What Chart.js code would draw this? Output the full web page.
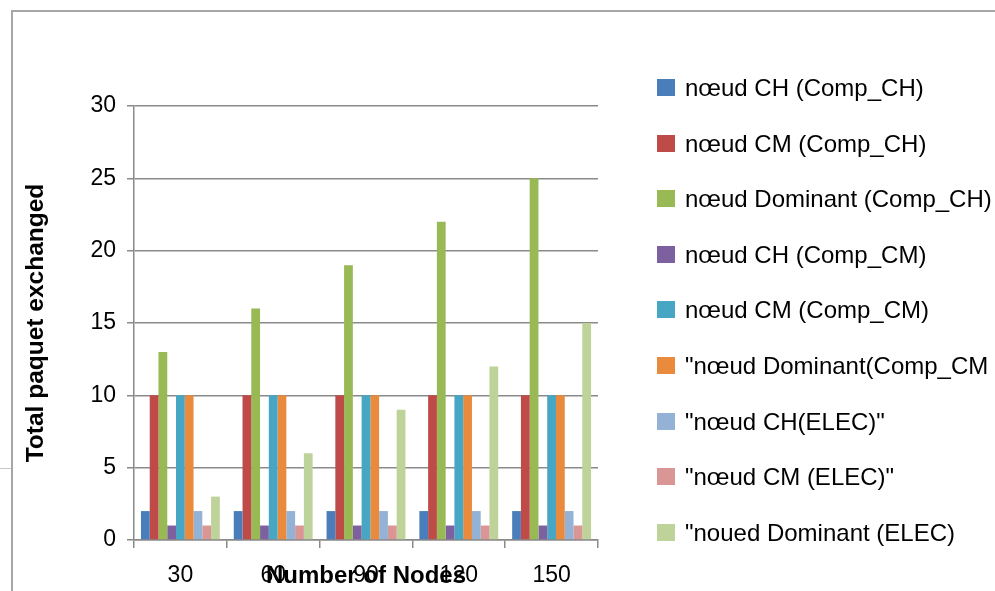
<!DOCTYPE html>
<html>
<head>
<meta charset="utf-8">
<script src="https://cdn.jsdelivr.net/npm/chart.js@4/dist/chart.umd.min.js"></script>
<style>
  html, body { margin: 0; padding: 0; background: #fff; overflow: hidden; }
  #wrap { position: relative; width: 995px; height: 591px; overflow: hidden; }
  #frame { position: absolute; left: 11px; top: 10px; width: 1200px; height: 800px;
           border-top: 2px solid #a6a6a6; border-left: 2px solid #a6a6a6; }
  #stub { position: absolute; left: 0; top: 468px; width: 11px; height: 0; border-top: 1px solid #c8c8c8; }
  canvas { position: absolute; left: 0; top: 0; }
  #legend { position: absolute; left: 657px; top: 0; font-family: "Liberation Sans", Arial, sans-serif;
            font-size: 24px; color: #000; white-space: nowrap; }
  .item { position: absolute; left: 0; height: 26px; line-height: 26px; }
  .sw { position: absolute; left: 0; top: 4px; width: 18px; height: 17px; }
  .lbl { position: absolute; left: 28px; top: 0; }
</style>
</head>
<body>
<div id="wrap">
  <div id="frame"></div>
  <div id="stub"></div>
  <canvas id="c" width="995" height="591"></canvas>
  <div id="legend"></div>
</div>
<script>
const categories = ["30", "60", "90", "120", "150"];

const chCompCH  = [2, 2, 2, 2, 2];
const cmCompCH  = [10, 10, 10, 10, 10];
const domCompCH = [13, 16, 19, 22, 25];
const chCompCM  = [1, 1, 1, 1, 1];
const cmCompCM  = [10, 10, 10, 10, 10];
const domCompCM = [10, 10, 10, 10, 10];
const chElec    = [2, 2, 2, 2, 2];
const cmElec    = [1, 1, 1, 1, 1];
const domElec   = [3, 6, 9, 12, 15];

const seriesNames = [
  "nœud CH (Comp_CH)",
  "nœud CM (Comp_CH)",
  "nœud Dominant (Comp_CH)",
  "nœud CH (Comp_CM)",
  "nœud CM (Comp_CM)",
  "\"nœud Dominant(Comp_CM",
  "\"nœud CH(ELEC)\"",
  "\"nœud CM (ELEC)\"",
  "\"noued Dominant (ELEC)"
];
const seriesValues = [chCompCH, cmCompCH, domCompCH, chCompCM, cmCompCM, domCompCM, chElec, cmElec, domElec];
const seriesColors = ["#4a7ebb", "#be4b48", "#98b954", "#7d60a0", "#46a6c4", "#e98a3c", "#94b2d6", "#d99694", "#bed39a"];

const yTitle = "Total paquet exchanged";
const xTitle = "Number of Nodes";

const datasets = seriesNames.map((n, i) => ({
  label: n,
  data: seriesValues[i],
  backgroundColor: seriesColors[i],
  borderWidth: 0,
  categoryPercentage: 0.85,
  barPercentage: 1.0
}));

const gridColor = "#8a8a8a";
const font = "'Liberation Sans', Arial, sans-serif";

new Chart(document.getElementById("c"), {
  type: "bar",
  data: { labels: categories, datasets },
  options: {
    responsive: false,
    animation: false,
    layout: { padding: { left: 0, top: 106, right: 397, bottom: 0 } },
    plugins: { legend: { display: false }, tooltip: { enabled: false } },
    scales: {
      x: {
        grid: { display: true, drawOnChartArea: false, drawTicks: true, tickLength: 8, color: gridColor, lineWidth: 1.5 },
        border: { display: true, color: gridColor, width: 1.5 },
        ticks: { color: "#000", font: { family: font, size: 23 }, padding: 14, maxRotation: 0 },
        title: { display: true, text: xTitle, color: "#000", font: { family: font, size: 24, weight: "bold" }, padding: { top: 0, bottom: 0 } },
        afterFit: (s) => { s.height = 51; }
      },
      y: {
        min: 0, max: 30,
        ticks: { stepSize: 5, color: "#000", font: { family: font, size: 23 }, padding: 11 },
        grid: { color: gridColor, lineWidth: 1.5, drawTicks: true, tickLength: 7 },
        border: { display: true, color: gridColor, width: 1.5 },
        title: { display: true, text: yTitle, color: "#000", font: { family: font, size: 24.5, weight: "bold" }, padding: { top: 22, bottom: 0 } },
        afterFit: (s) => { s.width = 134; }
      }
    }
  }
});

const legendTops = 88;
const legendStep = 55.6;
const leg = document.getElementById("legend");
seriesNames.forEach((n, i) => {
  const it = document.createElement("div");
  it.className = "item";
  it.style.top = (legendTops + i * legendStep - 13) + "px";
  const sw = document.createElement("div");
  sw.className = "sw";
  sw.style.background = seriesColors[i];
  const lb = document.createElement("div");
  lb.className = "lbl";
  lb.textContent = n;
  it.appendChild(sw); it.appendChild(lb);
  leg.appendChild(it);
});
</script>
</body>
</html>
